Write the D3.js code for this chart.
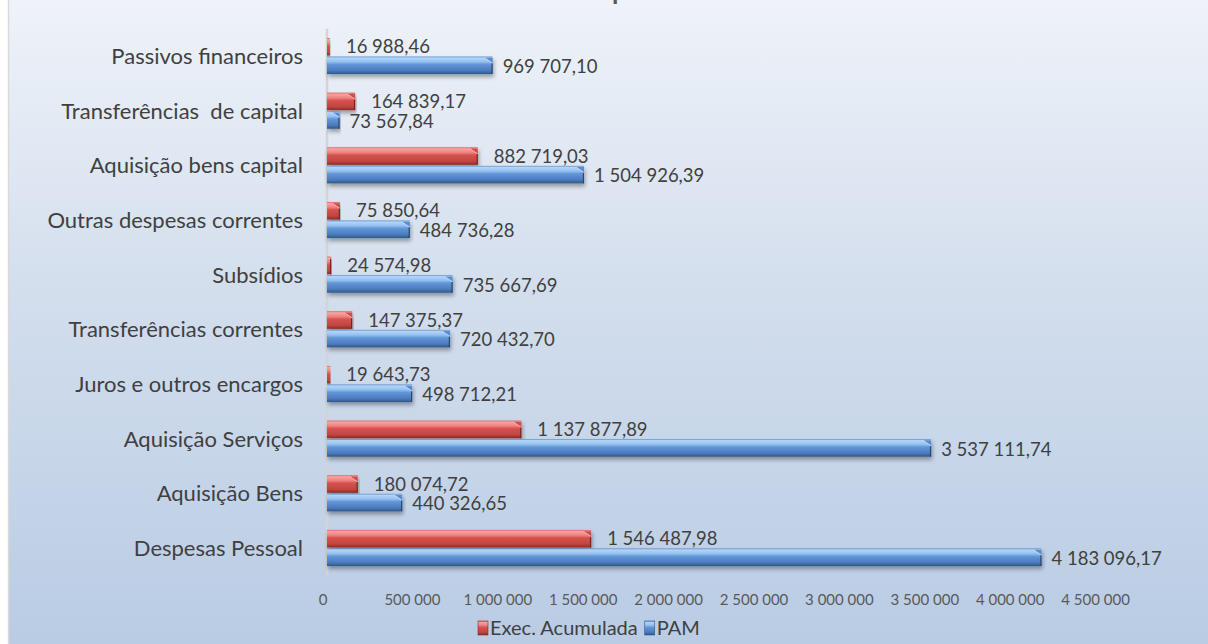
<!DOCTYPE html>
<html><head><meta charset="utf-8">
<script src="https://cdn.jsdelivr.net/npm/d3@7"></script>
<style>html,body{margin:0;padding:0;background:#fff}svg{display:block}text{white-space:pre}</style>
</head><body><svg id="c" width="1208" height="644"></svg>
<script>
const categories = ["Passivos financeiros","Transferências  de capital","Aquisição bens capital","Outras despesas correntes","Subsídios","Transferências correntes","Juros e outros encargos","Aquisição Serviços","Aquisição Bens","Despesas Pessoal"];
const seriesNames = ["Exec. Acumulada","PAM"];
const execAcumulada = [16988.46,164839.17,882719.03,75850.64,24574.98,147375.37,19643.73,1137877.89,180074.72,1546487.98];
const pam = [969707.10,73567.84,1504926.39,484736.28,735667.69,720432.70,498712.21,3537111.74,440326.65,4183096.17];
const xTicks = [0,500000,1000000,1500000,2000000,2500000,3000000,3500000,4000000,4500000];
const titleText = "Despesa";

const W=1208,H=644;
const svg=d3.select("#c");
const FONT="Lato, 'Open Sans', sans-serif";
const loc=d3.formatLocale({decimal:",",thousands:" ",grouping:[3],currency:["",""]});
const fmtVal=loc.format(",.2f"), fmtTick=loc.format(",.0f");

const defs=svg.append("defs");
const bg=defs.append("linearGradient").attr("id","bg").attr("x1",0).attr("y1",0).attr("x2",0).attr("y2",1);
bg.append("stop").attr("offset","0%").attr("stop-color","#eff3f9");
bg.append("stop").attr("offset","45%").attr("stop-color","#d3deed");
bg.append("stop").attr("offset","100%").attr("stop-color","#b9cce4");
function barGrad(id,stops){const g=defs.append("linearGradient").attr("id",id).attr("x1",0).attr("y1",0).attr("x2",0).attr("y2",1);
 stops.forEach(s=>g.append("stop").attr("offset",s[0]).attr("stop-color",s[1]));}
barGrad("gBlue",[["0%","#5b8ccb"],["8%","#b4d5f7"],["30%","#93c0ef"],["45%","#6296d8"],["80%","#4a7bbd"],["100%","#2f5787"]]);
barGrad("gRed",[["0%","#d05e5b"],["8%","#f7a4a2"],["30%","#ee8280"],["45%","#d6524f"],["80%","#c0463f"],["100%","#8a2a27"]]);
const f=defs.append("filter").attr("id","sh").attr("x","-5%").attr("y","-30%").attr("width","110%").attr("height","200%");
f.append("feGaussianBlur").attr("in","SourceAlpha").attr("stdDeviation",2).attr("result","b");
f.append("feOffset").attr("in","b").attr("dx",1).attr("dy",3).attr("result","o");
f.append("feComponentTransfer").attr("in","o").attr("result","o2").append("feFuncA").attr("type","linear").attr("slope",0.35);
const m=f.append("feMerge");m.append("feMergeNode").attr("in","o2");m.append("feMergeNode").attr("in","SourceGraphic");

svg.append("rect").attr("x",0).attr("y",0).attr("width",W).attr("height",H).attr("fill","#fff");
svg.append("rect").attr("x",9).attr("y",-2).attr("width",W-9).attr("height",H+4).attr("fill","url(#bg)");
svg.append("line").attr("x1",8.5).attr("x2",8.5).attr("y1",0).attr("y2",H).attr("stroke","#d9d9d9").attr("stroke-width",1.5);

// title (cut off at top edge, only the descender is visible)
const tt=svg.append("text").attr("font-family",FONT).attr("font-weight","bold").attr("font-size",26).attr("fill","#595959").attr("y",0).text(titleText);
const pre=tt.node().getSubStringLength(0,3);
tt.attr("x",612-pre);

const x=d3.scaleLinear().domain([0,4500000]).range([327,1095.6]);
const y=d3.scaleBand().domain(categories).range([28.7,575.3]).paddingInner(0.34).paddingOuter(0.17);
const yi=d3.scaleBand().domain(seriesNames).range([0,y.bandwidth()]).paddingInner(0.055);

// axis line
svg.append("line").attr("x1",x(0)).attr("x2",x(0)).attr("y1",y.range()[0]).attr("y2",y.range()[1]).attr("stroke","#d4d4d4").attr("stroke-width",2.5);

const data=[];
categories.forEach((c,i)=>{data.push({c,s:seriesNames[0],v:execAcumulada[i]});data.push({c,s:seriesNames[1],v:pam[i]});});

const bars=svg.append("g").selectAll("g").data(data).join("g").attr("filter","url(#sh)");
bars.each(function(d){
  const g=d3.select(this);
  const x0=x(0),xe=x(d.v),yt=y(d.c)+yi(d.s),h=yi.bandwidth();
  const red=d.s===seriesNames[0];
  g.append("rect").attr("x",x0).attr("y",yt).attr("width",Math.max(xe-x0,1)).attr("height",h).attr("fill",red?"url(#gRed)":"url(#gBlue)");
  const w=xe-x0, b=Math.min(8,w*0.6);
  if(w>4){
    g.append("path").attr("d",`M${xe-b},${yt+1.2}L${xe},${yt+1.2}L${xe},${yt+b*0.85}Z`).attr("fill",red?"#cf4f4b":"#5a8dd0");
    g.append("path").attr("d",`M${xe-b},${yt+1.2}L${xe},${yt+b*0.85}`).attr("stroke",red?"#fbc0bf":"#cfe6ff").attr("stroke-width",0.8).attr("fill","none");
    g.append("line").attr("x1",xe-0.6).attr("x2",xe-0.6).attr("y1",yt+b*0.85).attr("y2",yt+h).attr("stroke",red?"#7d2421":"#27486f").attr("stroke-width",1.2);
  }
});

// value labels
svg.append("g").selectAll("text").data(data).join("text")
 .attr("font-family",FONT).attr("font-size",18.5).attr("fill","#404040")
 .attr("transform",d=>`translate(${x(d.v)+(d.s===seriesNames[0]?16:10)},${y(d.c)+yi(d.s)+yi.bandwidth()/2+(d.s===seriesNames[0]?0:1)})`)
 .attr("dy","0.36em").text(d=>fmtVal(d.v));

// category labels
svg.append("g").selectAll("text").data(categories).join("text")
 .attr("font-family",FONT).attr("font-size",22).attr("fill","#404040").attr("text-anchor","end")
 .attr("x",303).attr("y",d=>y(d)+y.bandwidth()/2).attr("dy","0.36em").text(d=>d);

// x ticks
svg.append("g").selectAll("text").data(xTicks).join("text")
 .attr("font-family",FONT).attr("font-size",15).attr("fill","#595959").attr("text-anchor","middle")
 .attr("x",d=>x(d)-(d===0?4:0)).attr("y",600).attr("dy","0.36em").text(d=>fmtTick(d));

// legend
const lg=svg.append("g");
let lx=478;
seriesNames.forEach((s,i)=>{
  lg.append("rect").attr("x",lx).attr("y",621).attr("width",10).attr("height",14).attr("fill",i===0?"url(#gRed)":"url(#gBlue)").attr("stroke",i===0?"#8a2a27":"#2f5787").attr("stroke-width",0.6);
  const t=lg.append("text").attr("font-family",FONT).attr("font-size",20).attr("fill","#404040").attr("x",lx+12).attr("y",628).attr("dy","0.36em").text(s);
  lx+=12+t.node().getComputedTextLength()+7;
});
</script></body></html>
